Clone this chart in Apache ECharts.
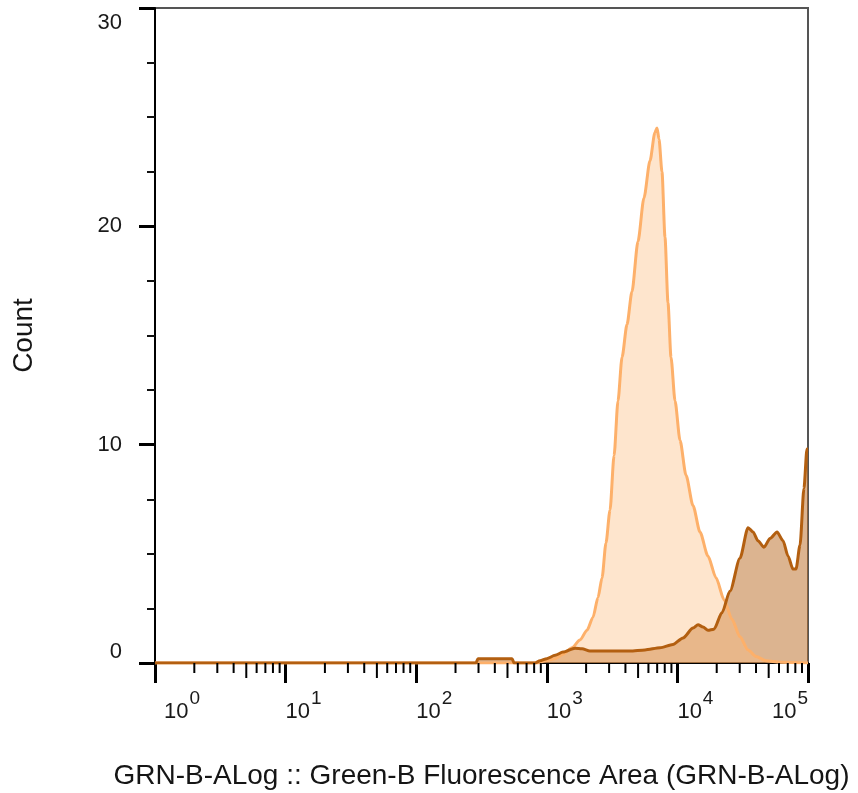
<!DOCTYPE html>
<html>
<head>
<meta charset="utf-8">
<script src="https://cdn.jsdelivr.net/npm/echarts@6/dist/echarts.min.js"></script>
<style>html,body{margin:0;padding:0;background:#fff}#c{width:858px;height:793px}</style>
</head>
<body>
<div id="c"></div>
<script>
// x positions are in decades (log10 of fluorescence), y = count
const xDecadeTicks = [0, 1, 2, 3, 4, 5];
const yTicks = [0, 10, 20, 30];
const xTitle = 'GRN-B-ALog :: Green-B Fluorescence Area (GRN-B-ALog)';
const yTitle = 'Count';

const stainedX = [0, 2.458, 2.473, 2.734, 2.749, 2.91, 2.948, 3.0, 3.063, 3.124, 3.216, 3.27, 3.33, 3.484, 3.637, 3.752, 3.867, 3.966, 4.043, 4.12, 4.158, 4.196, 4.234, 4.28, 4.341, 4.403, 4.479, 4.541, 4.579, 4.617, 4.663, 4.709, 4.763, 4.809, 4.847, 4.885, 4.908, 4.939, 4.969, 4.992, 5.0];
const stainedY = [0, 0, 0.2, 0.2, 0, 0, 0.1, 0.2, 0.35, 0.5, 0.68, 0.65, 0.55, 0.55, 0.55, 0.6, 0.7, 0.85, 1.15, 1.6, 1.75, 1.65, 1.5, 1.55, 2.3, 3.3, 4.8, 6.2, 6.0, 5.6, 5.3, 5.7, 6.0, 5.6, 4.9, 4.3, 4.3, 5.4, 8.0, 9.8, 9.8];

const controlX = [0, 2.933, 2.986, 3.063, 3.124, 3.193, 3.254, 3.308, 3.354, 3.392, 3.423, 3.453, 3.484, 3.515, 3.545, 3.576, 3.614, 3.652, 3.698, 3.744, 3.79, 3.828, 3.844, 3.859, 3.882, 3.905, 3.928, 3.951, 3.982, 4.02, 4.066, 4.12, 4.173, 4.234, 4.296, 4.357, 4.418, 4.479, 4.541, 4.602, 4.678, 4.786, 5.0];
const controlY = [0, 0, 0.1, 0.2, 0.4, 0.7, 1.05, 1.5, 2.1, 3.0, 3.9, 5.5, 7.0, 9.5, 12.0, 14.0, 15.5, 17.0, 19.3, 21.3, 23.0, 24.3, 24.5, 24.0, 22.5, 19.5, 16.5, 14.0, 12.0, 10.2, 8.6, 7.2, 6.0, 4.9, 3.9, 2.9, 2.0, 1.2, 0.6, 0.3, 0.1, 0.03, 0];

const minorMultipliers = [2, 3, 4, 5, 6, 7, 8, 9];

function pairs(xs, ys) { return xs.map((x, i) => [x, ys[i]]); }
const stained = pairs(stainedX, stainedY);
const control = pairs(controlX, controlY);

const minorTicks = [];
for (let d = 0; d < 5; d++) {
  minorMultipliers.forEach(m => minorTicks.push([d + Math.log10(m), m]));
}

const chart = echarts.init(document.getElementById('c'));
chart.setOption({
  animation: false,
  grid: { left: 155, right: 50, top: 8, bottom: 130, containLabel: false, outerBoundsMode: 'none',
    show: true, borderColor: '#555', borderWidth: 2, backgroundColor: 'transparent' },
  xAxis: {
    type: 'value', min: 0, max: 5, interval: 1,
    name: xTitle, nameLocation: 'middle', nameGap: 99,
    nameTextStyle: { fontSize: 28, color: '#151515', fontFamily: 'Liberation Sans' },
    axisLine: { show: true, onZero: false, lineStyle: { color: '#000', width: 2 } },
    axisTick: { show: true, length: 20, lineStyle: { color: '#000', width: 3 } },
    splitLine: { show: false },
    axisLabel: {
      margin: 26, align: 'left', alignMaxLabel: 'right',
      formatter: (v, i) => (i === 0 ? '{p|}' : '') + '{b|10}{s|' + v + '}',
      rich: {
        p: { width: 9, lineHeight: 34 },
        b: { fontSize: 22, color: '#1a1a1a', fontFamily: 'Liberation Sans', lineHeight: 34, verticalAlign: 'bottom' },
        s: { fontSize: 19, color: '#1a1a1a', fontFamily: 'Liberation Sans', lineHeight: 34, verticalAlign: 'top', padding: [0, 0, 12, 1] }
      }
    }
  },
  yAxis: {
    type: 'value', min: 0, max: 30, interval: 10,
    name: yTitle, nameLocation: 'middle', nameGap: 117,
    nameTextStyle: { fontSize: 28, color: '#151515', fontFamily: 'Liberation Sans' },
    axisLine: { show: true, lineStyle: { color: '#000', width: 2 } },
    axisTick: { show: true, length: 16, lineStyle: { color: '#000', width: 3 } },
    minorTick: { show: true, splitNumber: 4, length: 8, lineStyle: { color: '#111', width: 2 } },
    splitLine: { show: false },
    axisLabel: {
      margin: 33, fontSize: 22, color: '#1a1a1a', fontFamily: 'Liberation Sans',
      verticalAlignMaxLabel: 'top', verticalAlignMinLabel: 'bottom', padding: [4, 0, 0, 0]
    }
  },
  series: [
    { type: 'line', data: stained, showSymbol: false, smooth: 0.25, smoothMonotone: 'x',
      lineStyle: { width: 0 }, areaStyle: { color: 'rgba(188,112,42,0.52)', opacity: 1 }, z: 1 },
    { type: 'line', data: control, showSymbol: false, smooth: 0.25, smoothMonotone: 'x',
      lineStyle: { width: 0 }, areaStyle: { color: 'rgba(253,190,130,0.4)', opacity: 1 }, z: 2 },
    { type: 'line', data: control, showSymbol: false, smooth: 0.25, smoothMonotone: 'x',
      lineStyle: { width: 3, color: '#fdb06a' }, z: 3 },
    { type: 'line', data: stained, showSymbol: false, smooth: 0.25, smoothMonotone: 'x',
      lineStyle: { width: 3, color: '#b35f10' }, z: 4 },
    { type: 'custom', data: minorTicks, clip: false, silent: true, z: 5,
      renderItem: (params, api) => {
        const p = api.coord([api.value(0), 0]);
        const len = api.value(1) === 5 ? 15 : 10;
        return { type: 'line', shape: { x1: p[0], y1: p[1], x2: p[0], y2: p[1] + len },
          style: { stroke: '#000', lineWidth: 2 } };
      } }
  ]
});
</script>
</body>
</html>
